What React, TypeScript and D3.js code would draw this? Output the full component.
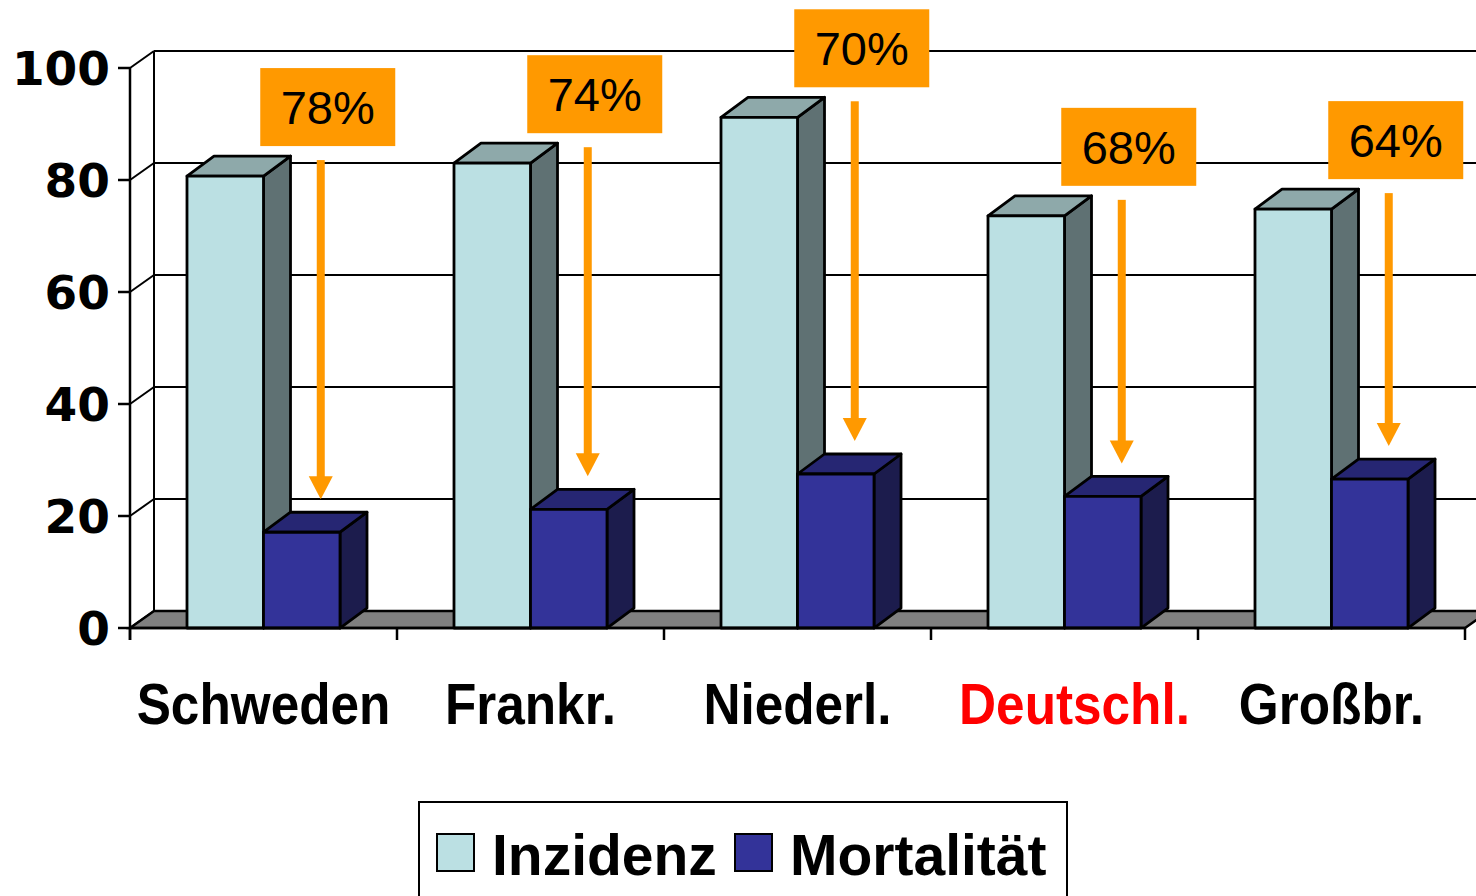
import React from "react";
import * as d3 from "d3";

// data
const countries = ["Schweden", "Frankr.", "Niederl.", "Deutschl.", "Großbr."];
const series = ["Inzidenz", "Mortalität"];
const inzidenz = [80.7, 83, 91.2, 73.6, 74.8];
const mortalitaet = [17.1, 21.2, 27.5, 23.5, 26.6];
const reduction = ["78%", "74%", "70%", "68%", "64%"];
const yTicks = [0, 20, 40, 60, 80, 100];
const highlighted = "Deutschl.";

const W = 1476;
const H = 896;
const left = 130;
const right = 1465;
const base = 628;
const top = 68;
// depth of wall / floor and of the bars
const wallDx = 24, wallDy = -17;
const barDx = 27, barDy = -20;

const colors = {
  Inzidenz: { front: "#BBE0E3", top: "#8EA9AA", side: "#5F7173" },
  "Mortalität": { front: "#333399", top: "#262673", side: "#1C1C4D" },
};
const orange = "#FF9900";

const App = () => {
  const y = d3.scaleLinear().domain([0, 100]).range([base, top]);
  const x0 = d3.scaleBand().domain(countries).range([left, right]).padding(0);
  const x1 = d3.scaleBand().domain(series).range([0, x0.bandwidth()]).paddingInner(0).paddingOuter(0.745);
  const values = { Inzidenz: inzidenz, "Mortalität": mortalitaet };

  const pts = (arr) => arr.map((p) => p.join(",")).join(" ");

  const bar = (c, s, v, key) => {
    const xl = x0(c) + x1(s);
    const xr = xl + x1.bandwidth();
    const yt = y(v);
    const col = colors[s];
    return (
      <g key={key} stroke="#000" strokeWidth={2.8} strokeLinejoin="round">
        <polygon fill={col.side} points={pts([[xr, yt], [xr + barDx, yt + barDy], [xr + barDx, base + barDy], [xr, base]])} />
        <polygon fill={col.top} points={pts([[xl, yt], [xl + barDx, yt + barDy], [xr + barDx, yt + barDy], [xr, yt]])} />
        <rect fill={col.front} x={xl} y={yt} width={xr - xl} height={base - yt} />
      </g>
    );
  };

  return (
    <svg width={W} height={H} style={{ position: "absolute", left: 0, top: 0, background: "#fff" }}>
      {/* back wall gridlines */}
      <g stroke="#000" strokeWidth={2}>
        {yTicks.filter((t) => t > 0).map((t) => (
          <line key={t} x1={left + wallDx} x2={W + 20} y1={y(t) + wallDy} y2={y(t) + wallDy} />
        ))}
        {/* left side wall */}
        <line x1={left + wallDx} x2={left + wallDx} y1={y(100) + wallDy} y2={base + wallDy} />
        {yTicks.map((t) => (
          <line key={"d" + t} x1={left} y1={y(t)} x2={left + wallDx} y2={y(t) + wallDy} />
        ))}
      </g>
      {/* floor */}
      <polygon
        fill="#808080"
        stroke="#000"
        strokeWidth={2.5}
        points={pts([[left, base], [right, base], [right + wallDx, base + wallDy], [left + wallDx, base + wallDy]])}
      />
      {/* bars */}
      {countries.map((c, i) => (
        <g key={c}>
          {series.map((s) => bar(c, s, values[s][i], s))}
        </g>
      ))}
      {/* axes */}
      <g stroke="#000" strokeWidth={2.5}>
        <line x1={left} x2={left} y1={y(100)} y2={base + 12} />
        <line x1={left} x2={right} y1={base} y2={base} />
        {yTicks.map((t) => (
          <line key={t} x1={left - 12} x2={left} y1={y(t)} y2={y(t)} />
        ))}
        {d3.range(countries.length + 1).map((i) => (
          <line key={"x" + i} x1={left + i * x0.step()} x2={left + i * x0.step()} y1={base} y2={base + 12} />
        ))}
      </g>
      {yTicks.map((t) => (
        <text
          key={t}
          x={110}
          y={y(t)}
          dy="0.36em"
          textAnchor="end"
          fontFamily="'DejaVu Sans', sans-serif"
          fontWeight="bold"
          fontSize={47}
        >
          {t}
        </text>
      ))}
      {countries.map((c) => {
        const cx = x0(c) + x0.bandwidth() / 2 + (c === highlighted ? 10 : 0);
        return (
          <text
            key={c}
            transform={`translate(${cx},724) scale(0.9,1)`}
            textAnchor="middle"
            fontFamily="'Liberation Sans', Arial, sans-serif"
            fontWeight="bold"
            fontSize={57}
            fill={c === highlighted ? "#FF0000" : "#000"}
          >
            {c}
          </text>
        );
      })}
      {/* arrows and reduction boxes */}
      {countries.map((c, i) => {
        const ax = x0(c) + x1("Mortalität") + x1.bandwidth() / 2 + 19;
        const boxBottom = y(inzidenz[i]) + barDy - 10;
        const y1 = boxBottom + 14;
        const tip = y(mortalitaet[i]) + barDy - 13;
        const head = 23;
        const bw = 135, bh = 78;
        const bx = ax + 7 - bw / 2;
        return (
          <g key={"a" + c}>
            <rect x={ax - 4} y={y1} width={8} height={tip - head - y1 + 1} fill={orange} />
            <polygon fill={orange} points={pts([[ax - 12, tip - head], [ax + 12, tip - head], [ax, tip]])} />
            <rect x={bx} y={boxBottom - bh} width={bw} height={bh} fill={orange} />
            <text
              x={bx + bw / 2}
              y={boxBottom - bh / 2}
              dy="0.36em"
              textAnchor="middle"
              fontFamily="'Liberation Sans', Arial, sans-serif"
              fontSize={47}
              fill="#000"
            >
              {reduction[i]}
            </text>
          </g>
        );
      })}
      {/* legend */}
      <g>
        <rect x={419} y={802} width={648} height={120} fill="#fff" stroke="#000" strokeWidth={2} />
        {series.map((s, i) => {
          const lx = i === 0 ? 437 : 735;
          return (
            <g key={s}>
              <rect x={lx} y={834} width={37} height={37} fill={colors[s].front} stroke="#000" strokeWidth={2} />
              <text
                x={lx + 55}
                y={875}
                fontFamily="'Liberation Sans', Arial, sans-serif"
                fontWeight="bold"
                fontSize={57}
              >
                {s}
              </text>
            </g>
          );
        })}
      </g>
    </svg>
  );
};

export default App;
